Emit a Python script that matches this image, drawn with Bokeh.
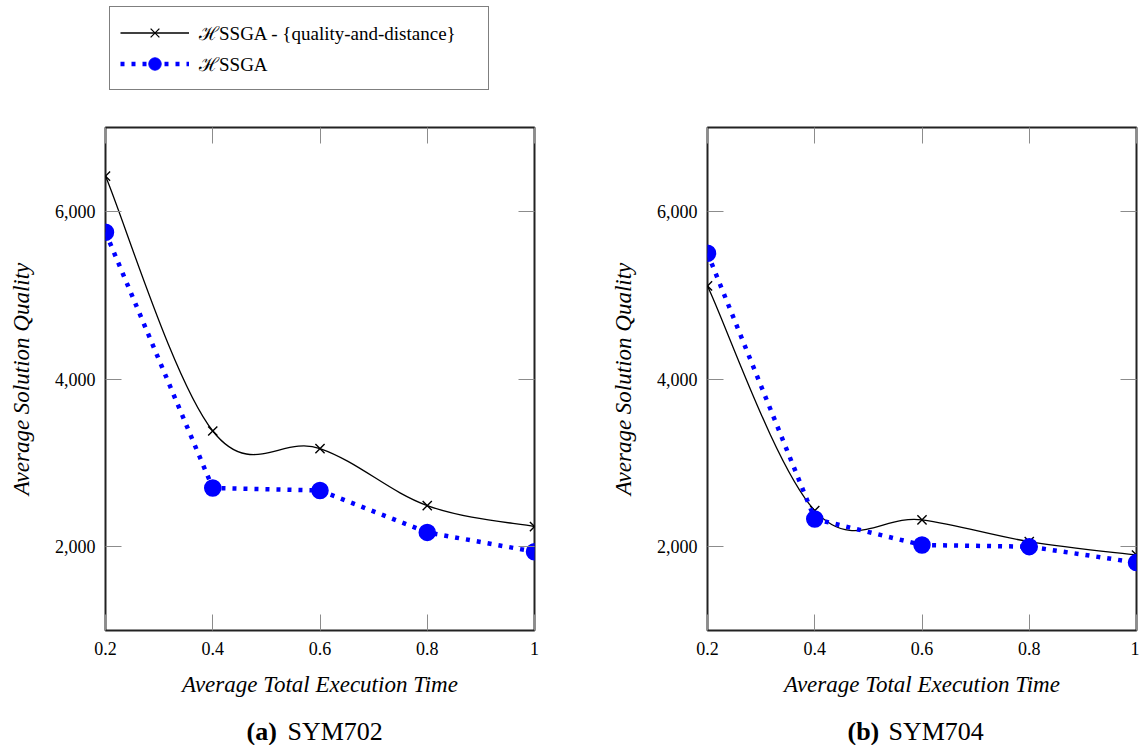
from bokeh.plotting import figure
from bokeh.layouts import column, row
from bokeh.models import (FixedTicker, NumeralTickFormatter, LinearAxis, Range1d,
                          Legend, LegendItem, Label, CustomJSTickFormatter,
                          ColumnDataSource)
from bokeh.embed import file_html
from bokeh.resources import INLINE

# ---------------- data ----------------
exec_time = [0.2, 0.4, 0.6, 0.8, 1.0]
sym702_quality_distance = [6420, 3380, 3170, 2490, 2240]
sym702_hssga = [5750, 2700, 2670, 2170, 1940]
sym704_quality_distance = [5110, 2430, 2320, 2060, 1900]
sym704_hssga = [5500, 2330, 2020, 2000, 1810]

x_ticks = [0.2, 0.4, 0.6, 0.8, 1.0]
x_tick_labels = ["0.2", "0.4", "0.6", "0.8", "1"]
y_ticks = [2000, 4000, 6000]

series_names = ["\u210bSSGA - {quality-and-distance}", "\u210bSSGA"]
panel_tags = ["(a)", "(b)"]
panel_names = ["SYM702", "SYM704"]
x_label = "Average Total Execution Time"
y_label = "Average Solution Quality"

SERIF = "Liberation Serif"
BLUE = "#0000ff"
TICK = "#8c8c8c"


def smooth(xs, ys, k=0.18):
    """Bezier control points for a smooth curve through the data points."""
    n = len(xs)
    out = {key: [] for key in ("x0", "y0", "x1", "y1", "cx0", "cy0", "cx1", "cy1")}
    for i in range(n - 1):
        a = max(i - 1, 0)
        b = min(i + 2, n - 1)
        out["x0"].append(xs[i]); out["y0"].append(ys[i])
        out["x1"].append(xs[i + 1]); out["y1"].append(ys[i + 1])
        out["cx0"].append(xs[i] + k * (xs[i + 1] - xs[a]))
        out["cy0"].append(ys[i] + k * (ys[i + 1] - ys[a]))
        out["cx1"].append(xs[i + 1] - k * (xs[b] - xs[i]))
        out["cy1"].append(ys[i + 1] - k * (ys[b] - ys[i]))
    return out


def panel(qd, hs, left, right):
    p = figure(frame_width=429, frame_height=503,
               x_range=Range1d(0.2, 1.0), y_range=Range1d(1000, 7000),
               output_backend="svg", toolbar_location=None,
               min_border_left=left, min_border_right=right,
               min_border_top=27, min_border_bottom=75,
               outline_line_color="#222222", outline_line_width=2,
               background_fill_color="white", border_fill_color="white")
    p.grid.visible = False
    p.add_layout(LinearAxis(), "above")
    p.add_layout(LinearAxis(), "right")

    for ax in p.xaxis:
        ax.ticker = FixedTicker(ticks=x_ticks)
    for ax in p.yaxis:
        ax.ticker = FixedTicker(ticks=y_ticks)
    for ax in p.xaxis + p.yaxis:
        ax.major_tick_in = 16
        ax.major_tick_out = 0
        ax.minor_tick_line_color = None
        ax.major_tick_line_color = TICK
        ax.major_tick_line_width = 1
        ax.axis_line_color = None
        ax.major_label_text_font = SERIF
        ax.major_label_text_font_size = "18px"
        ax.major_label_text_color = "black"
        ax.axis_label_text_font = SERIF
        ax.axis_label_text_font_size = "23px"
        ax.axis_label_text_font_style = "italic"
        ax.axis_label_text_color = "black"

    for ax in (p.above[0], p.right[0]):
        ax.formatter = CustomJSTickFormatter(code="return ''")
        ax.major_label_standoff = 0

    xb = p.below[0]
    xb.major_label_overrides = dict(zip(x_ticks, x_tick_labels))
    xb.major_label_standoff = 11
    xb.axis_label = x_label
    xb.axis_label_standoff = 14

    yl = p.left[0]
    yl.formatter = NumeralTickFormatter(format="0,0")
    yl.major_label_standoff = 10
    yl.axis_label = y_label
    yl.axis_label_standoff = 18

    src = ColumnDataSource(smooth(exec_time, qd))
    p.bezier(x0="x0", y0="y0", x1="x1", y1="y1", cx0="cx0", cy0="cy0",
             cx1="cx1", cy1="cy1", source=src, line_color="black", line_width=1.3)
    p.scatter(exec_time, qd, marker="x", size=13, line_color="black", line_width=1.4)
    p.line(exec_time, hs, line_color=BLUE, line_width=4.5, line_dash="4 7")
    p.scatter(exec_time, hs, marker="circle", size=16, fill_color=BLUE,
              line_color=BLUE, line_width=1.5)
    return p


def caption(tag, name, width, x_tag, x_name):
    c = figure(width=width, height=40, x_range=Range1d(0, 1), y_range=Range1d(0, 1),
               x_axis_type=None, y_axis_type=None, output_backend="svg",
               toolbar_location=None, min_border=0, outline_line_color=None)
    c.grid.visible = False
    c.add_layout(Label(x=x_tag, y=14, x_units="screen", y_units="screen", text=tag,
                       text_font=SERIF, text_font_style="bold", text_font_size="26px",
                       text_baseline="middle", text_align="left", text_color="black"))
    c.add_layout(Label(x=x_name, y=14, x_units="screen", y_units="screen", text=name,
                       text_font=SERIF, text_font_size="26px",
                       text_baseline="middle", text_align="left", text_color="black"))
    return c


pa = panel(sym702_quality_distance, sym702_hssga, 105, 64)
pb = panel(sym704_quality_distance, sym704_hssga, 109, 3)
ca = caption(panel_tags[0], panel_names[0], 598, 141, 182)
cb = caption(panel_tags[1], panel_names[1], 541, 140, 181)

# ---------------- legend figure ----------------
lf = figure(width=598, height=100, x_range=Range1d(0, 1), y_range=Range1d(0, 1),
            x_axis_type=None, y_axis_type=None, output_backend="svg",
            toolbar_location=None, min_border=0, outline_line_color=None)
lf.grid.visible = False
# legend swatches: renderers whose data lies outside this figure's view
r1 = lf.line(exec_time, sym702_quality_distance, line_color="black", line_width=1.3)
r2 = lf.scatter(exec_time, sym702_quality_distance, marker="x", size=12,
                line_color="black", line_width=1.3)
r3 = lf.line(exec_time, sym702_hssga, line_color=BLUE, line_width=4.5, line_dash="4 7")
r4 = lf.scatter(exec_time, sym702_hssga, marker="circle", size=15,
                fill_color=BLUE, line_color=BLUE)
legend = Legend(items=[LegendItem(label=series_names[0], renderers=[r1, r2]),
                       LegendItem(label=series_names[1], renderers=[r3, r4])],
                location=(109, 10), padding=10, spacing=0, margin=0,
                glyph_width=69, glyph_height=31, label_height=31,
                label_standoff=10, label_width=279,
                label_text_font=SERIF, label_text_font_size="19px",
                label_text_color="black",
                border_line_color="black", border_line_width=1.5,
                background_fill_color="white", background_fill_alpha=1)
lf.add_layout(legend)

layout = column(lf, row(column(pa, ca), column(pb, cb)))
open("out.html", "w").write(file_html(layout, INLINE))
